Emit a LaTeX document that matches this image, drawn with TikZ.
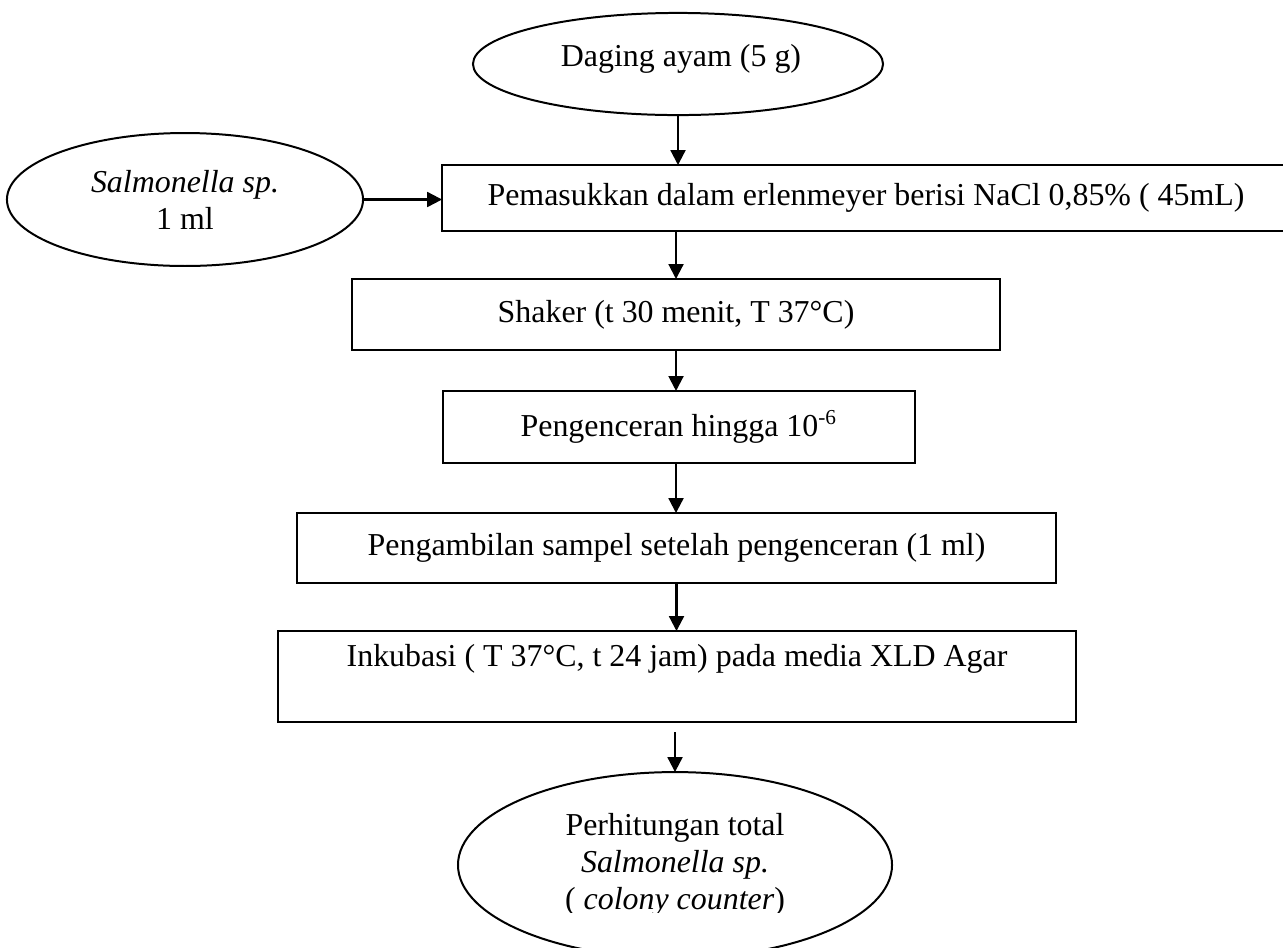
\documentclass[tikz,border=0pt]{standalone}
\usepackage{fontspec}
\setmainfont{Liberation Serif}
\usetikzlibrary{shapes.geometric,arrows.meta}
\begin{document}
\begin{tikzpicture}[x=0.376pt,y=-0.376pt,
  every node/.style={font=\fontsize{12pt}{13.9pt}\selectfont, inner sep=0pt, outer sep=0pt, align=center},
  procbox/.style={draw, line width=0.9pt, rectangle},
  term/.style={draw, line width=0.75pt, ellipse},
  flow/.style={line width=0.8pt, -{Triangle[length=5.6pt,width=5.6pt]}}]
\useasboundingbox (0,0) rectangle (1283,947);

% start and side inputs
\node[term, minimum width=154.2pt, minimum height=38.4pt] (src) at (678,64) {};
\node (tsrc) at (681,59) {Daging ayam (5 g)};
\node[term, minimum width=133.9pt, minimum height=50pt] (inoc) at (185,199.5) {\textit{Salmonella sp.}\\1 ml};

% process steps
\node[procbox, minimum width=318.8pt, minimum height=24.8pt] (b1) at (866,198)
  {Pemasukkan dalam erlenmeyer berisi NaCl 0,85\% ( 45mL)};
\node[procbox, minimum width=243.6pt, minimum height=26.7pt] (b2) at (676,314.5)
  {Shaker (t 30 menit, T 37°C)};
\node[procbox, minimum width=177.5pt, minimum height=27.1pt] (b3) at (679,427)
  {Pengenceran hingga 10\textsuperscript{-6}};
\node[procbox, minimum width=285.4pt, minimum height=26.3pt] (b4) at (676.5,548)
  {Pengambilan sampel setelah pengenceran (1 ml)};
\node[procbox, minimum width=300pt, minimum height=34.2pt] (b5) at (677,676.5) {};
\node (t5) at (677,659) {Inkubasi ( T 37°C, t 24 jam) pada media XLD Agar};

% final count
\node[term, minimum width=163.2pt, minimum height=69.9pt] (res) at (675,865) {};
\begin{scope}
  \clip (0,0) rectangle (1283,912);
  \node (tres) at (res.center) {Perhitungan total\\\textit{Salmonella sp.}\\( \textit{colony counter})};
\end{scope}

% connectors
\draw[flow] (src.south) -- (src.south |- b1.north);
\draw[flow] (inoc.east) -- (inoc.east -| b1.west);
\draw[flow] (b1.south -| b2.north) -- (b2.north);
\draw[flow] (b2.south) -- (b2.south |- b3.north);
\draw[flow] (b3.south -| b2.south) -- (b4.north -| b2.south);
\draw[flow] (b4.south) -- (b4.south |- b5.north);
\draw[flow] ([yshift=-3.8pt]b5.south -| res.north) -- (res.north);
\end{tikzpicture}
\end{document}
